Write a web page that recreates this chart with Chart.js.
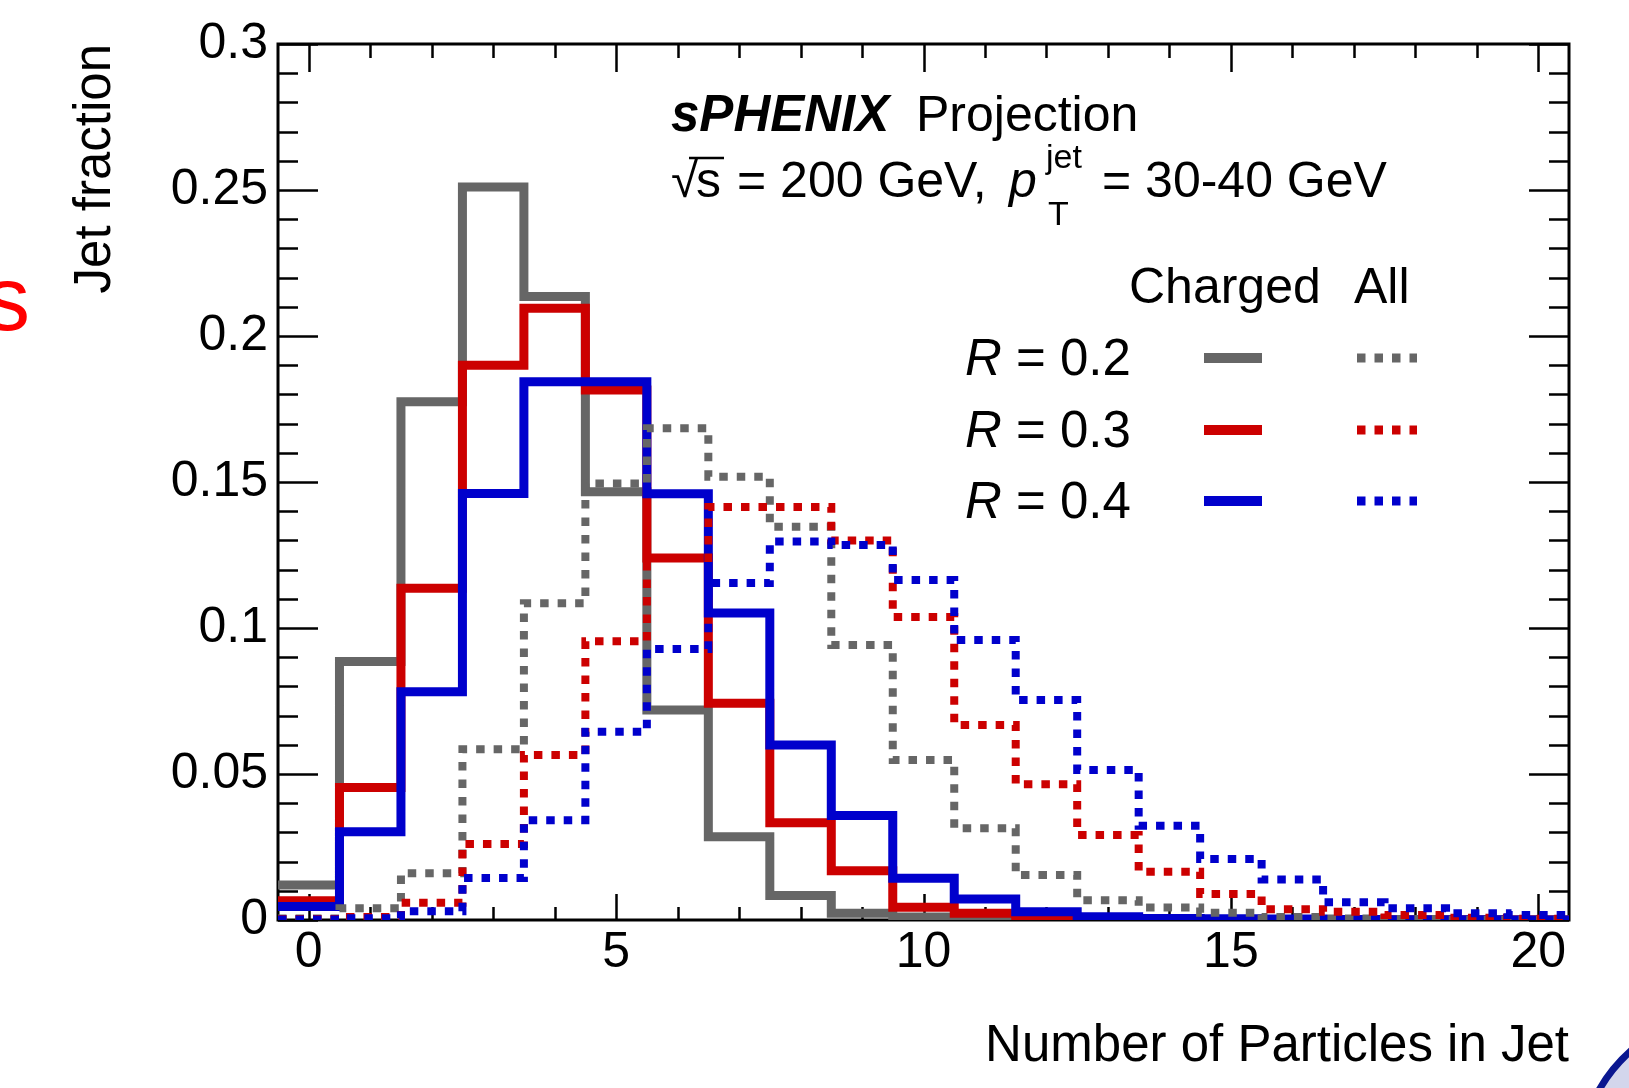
<!DOCTYPE html>
<html>
<head>
<meta charset="utf-8">
<script src="https://cdn.jsdelivr.net/npm/chart.js@4.4.1/dist/chart.umd.min.js"></script>
<style>
html,body{margin:0;padding:0;background:#ffffff;}
#wrap{width:1629px;height:1088px;position:relative;overflow:hidden;}
</style>
</head>
<body>
<div id="wrap"><canvas id="c" width="1629" height="1088"></canvas></div>
<script>
// ---------- data ----------
const binCenters = [0,1,2,3,4,5,6,7,8,9,10,11,12,13,14,15,16,17,18,19,20];
const chargedR02 = [0.012, 0.0885, 0.1775, 0.251, 0.2135, 0.1467, 0.0719, 0.0285, 0.0084, 0.0023, 0.001, 0.0005, 0.0002, 0.0001, 0, 0, 0, 0, 0, 0, 0];
const chargedR03 = [0.0066, 0.0454, 0.1136, 0.190, 0.2095, 0.1815, 0.124, 0.0742, 0.0333, 0.0169, 0.0044, 0.0023, 0.0006, 0.0003, 0.0002, 0.0001, 0, 0, 0, 0, 0];
const chargedR04 = [0.0046, 0.0302, 0.0782, 0.1461, 0.1843, 0.1843, 0.146, 0.1051, 0.0599, 0.0358, 0.0143, 0.0072, 0.0028, 0.0011, 0.0005, 0.0004, 0.0003, 0.0002, 0.0001, 0.0001, 0];
const allR02 = [0.0005, 0.004, 0.016, 0.0585, 0.1085, 0.1495, 0.1684, 0.1518, 0.1347, 0.0942, 0.0548, 0.0314, 0.0154, 0.0068, 0.0043, 0.0025, 0.001, 0.0005, 0.0003, 0.0001, 0];
const allR03 = [0.0003, 0.001, 0.0059, 0.026, 0.0565, 0.0955, 0.124, 0.1414, 0.1414, 0.130, 0.1038, 0.0668, 0.0465, 0.0291, 0.0165, 0.0089, 0.0037, 0.0028, 0.0017, 0.0008, 0.0004];
const allR04 = [0.0002, 0.0006, 0.003, 0.0144, 0.0342, 0.0645, 0.0928, 0.1154, 0.1296, 0.1284, 0.1164, 0.0959, 0.0753, 0.0514, 0.0323, 0.0209, 0.0139, 0.0061, 0.004, 0.0023, 0.0017];

const xTickValues = [0, 5, 10, 15, 20];
const xTickLabels = ['0', '5', '10', '15', '20'];
const yTickValues = [0, 0.05, 0.1, 0.15, 0.2, 0.25, 0.3];
const yTickLabels = ['0', '0.05', '0.1', '0.15', '0.2', '0.25', '0.3'];
const radiusLabels = ['0.2', '0.3', '0.4'];
const xTitle = 'Number of Particles in Jet';
const yTitle = 'Jet fraction';

// ---------- style ----------
const FONT = '"Liberation Sans", Arial, Helvetica, sans-serif';
const GRAY = '#666666', RED = '#cc0000', BLUE = '#0000cc';
const SOLID_W = 9, DOT_W = 8, DOT_DASH = [8.5, 9];

// histogram outline: left bin edges + closing right edge
function toSteps(vals) {
  const pts = vals.map((v, i) => ({ x: binCenters[i] - 0.5, y: v }));
  const last = vals.length - 1;
  pts.push({ x: binCenters[last] + 0.5, y: vals[last] });
  return pts;
}
function ds(label, vals, color, dotted, order) {
  return {
    label, data: toSteps(vals), borderColor: color, backgroundColor: color,
    borderWidth: dotted ? DOT_W : SOLID_W, borderDash: dotted ? DOT_DASH : [],
    borderCapStyle: 'butt', borderJoinStyle: 'miter',
    stepped: 'before', pointRadius: 0, fill: false, tension: 0, order
  };
}

const datasets = [
  ds('All, R = 0.4', allR04, BLUE, true, 0),
  ds('All, R = 0.3', allR03, RED, true, 1),
  ds('All, R = 0.2', allR02, GRAY, true, 2),
  ds('Charged, R = 0.4', chargedR04, BLUE, false, 3),
  ds('Charged, R = 0.3', chargedR03, RED, false, 4),
  ds('Charged, R = 0.2', chargedR02, GRAY, false, 5)
];

// ---------- plugins ----------
const yMinorStep = 0.01, xMinorStep = 1;
const frameTicks = {
  id: 'frameTicks',
  beforeDatasetsDraw(chart) {
    const { ctx, chartArea: a, scales: { x, y } } = chart;
    ctx.save();
    ctx.strokeStyle = '#000';
    ctx.lineWidth = 2.5;
    ctx.beginPath();
    const ny = Math.round((y.max - y.min) / yMinorStep);
    for (let k = 0; k <= ny; k++) {
      const py = Math.round(y.getPixelForValue(y.min + k * yMinorStep)) + 0.5;
      const L = (k % 5 === 0) ? 40 : 20;
      ctx.moveTo(a.left, py); ctx.lineTo(a.left + L, py);
      ctx.moveTo(a.right, py); ctx.lineTo(a.right - L, py);
    }
    for (let v = xTickValues[0]; v <= xTickValues[xTickValues.length - 1]; v += xMinorStep) {
      const px = Math.round(x.getPixelForValue(v)) + 0.5;
      const major = xTickValues.includes(v);
      ctx.moveTo(px, a.bottom); ctx.lineTo(px, a.bottom - (major ? 26 : 13));
      ctx.moveTo(px, a.top); ctx.lineTo(px, a.top + (major ? 28 : 14));
    }
    ctx.stroke();
    ctx.lineWidth = 3;
    ctx.strokeRect(a.left, a.top, a.right - a.left, a.bottom - a.top);
    ctx.restore();
  }
};

const annotations = {
  id: 'annotations',
  afterDraw(chart) {
    const ctx = chart.ctx;
    ctx.save();
    ctx.fillStyle = '#000';
    ctx.textBaseline = 'alphabetic';
    ctx.textAlign = 'left';
    // header
    ctx.font = `italic bold 51px ${FONT}`;
    ctx.fillText('sPHENIX', 671, 131);
    ctx.font = `50px ${FONT}`;
    ctx.fillText('Projection', 916, 131);
    // second line
    ctx.fillText('\u221A', 671, 197);
    ctx.fillText('s', 696, 197);
    ctx.lineWidth = 2.5; ctx.strokeStyle = '#000';
    ctx.beginPath(); ctx.moveTo(689, 158); ctx.lineTo(724, 158); ctx.stroke();
    ctx.fillText('= 200 GeV,', 737, 197);
    ctx.font = `italic 50px ${FONT}`;
    ctx.fillText('p', 1009, 197);
    ctx.font = `34px ${FONT}`;
    ctx.fillText('jet', 1046, 168);
    ctx.fillText('T', 1048, 225);
    ctx.font = `50px ${FONT}`;
    ctx.fillText('= 30-40 GeV', 1102, 197);
    // legend header
    ctx.fillText('Charged', 1129, 303);
    ctx.fillText('All', 1354, 303);
    // legend rows
    const rowBase = [375, 447, 518];
    const solidSets = [datasets[5], datasets[4], datasets[3]];
    const dotSets = [datasets[2], datasets[1], datasets[0]];
    for (let i = 0; i < 3; i++) {
      ctx.font = `italic 51px ${FONT}`;
      ctx.fillStyle = '#000';
      ctx.fillText('R', 965, rowBase[i]);
      const w = ctx.measureText('R').width;
      ctx.font = `51px ${FONT}`;
      ctx.fillText(' = ' + radiusLabels[i], 965 + w, rowBase[i]);
      const cy = rowBase[i] - 17;
      ctx.lineCap = 'butt';
      ctx.strokeStyle = solidSets[i].borderColor;
      ctx.lineWidth = 10;
      ctx.setLineDash([]);
      ctx.beginPath(); ctx.moveTo(1204, cy); ctx.lineTo(1262, cy); ctx.stroke();
      ctx.strokeStyle = dotSets[i].borderColor;
      ctx.lineWidth = DOT_W + 1;
      ctx.setLineDash(DOT_DASH);
      ctx.beginPath(); ctx.moveTo(1357, cy); ctx.lineTo(1417, cy); ctx.stroke();
      ctx.setLineDash([]);
    }
    // slide remnants: red letter at left edge, blue swoosh at lower right
    ctx.fillStyle = '#ff0000';
    ctx.font = `90px ${FONT}`;
    ctx.fillText('s', -15, 330);
    ctx.fillStyle = '#d3d6ec';
    ctx.beginPath();
    ctx.moveTo(1598, 1092); ctx.quadraticCurveTo(1611, 1068, 1633, 1049);
    ctx.lineTo(1633, 1092); ctx.closePath(); ctx.fill();
    ctx.strokeStyle = '#0a1790'; ctx.lineWidth = 7;
    ctx.beginPath(); ctx.moveTo(1598, 1092); ctx.quadraticCurveTo(1611, 1068, 1633, 1049); ctx.stroke();
    ctx.restore();
  }
};

// ---------- chart ----------
new Chart(document.getElementById('c'), {
  type: 'line',
  data: { datasets },
  options: {
    responsive: false,
    animation: false,
    devicePixelRatio: 1,
    layout: { padding: { left: 0, right: 60, top: 44, bottom: 0 } },
    plugins: { legend: { display: false }, tooltip: { enabled: false } },
    scales: {
      x: {
        type: 'linear', position: 'bottom', min: -0.5, max: 20.5,
        afterBuildTicks: s => { s.ticks = xTickValues.map(v => ({ value: v })); },
        afterFit: s => { s.height = 168; },
        grid: { display: false, drawTicks: false },
        border: { display: false },
        ticks: { callback: (v, i) => xTickLabels[i], color: '#000', font: { family: FONT, size: 50 }, padding: 3, maxRotation: 0, autoSkip: false },
        title: { display: true, text: xTitle, align: 'end', color: '#000', font: { family: FONT, size: 51 }, padding: { top: 0, bottom: 10 } }
      },
      y: {
        type: 'linear', position: 'left', min: 0, max: 0.3,
        afterBuildTicks: s => { s.ticks = yTickValues.map(v => ({ value: v })); },
        afterFit: s => { s.width = 278; },
        grid: { display: false, drawTicks: false },
        border: { display: false },
        ticks: { callback: (v, i) => yTickLabels[i], color: '#000', font: { family: FONT, size: 50 }, padding: 10, autoSkip: false },
        title: { display: true, text: yTitle, align: 'end', color: '#000', font: { family: FONT, size: 51 }, padding: { top: 65, bottom: 0 } }
      }
    }
  },
  plugins: [frameTicks, annotations]
});
</script>
</body>
</html>
